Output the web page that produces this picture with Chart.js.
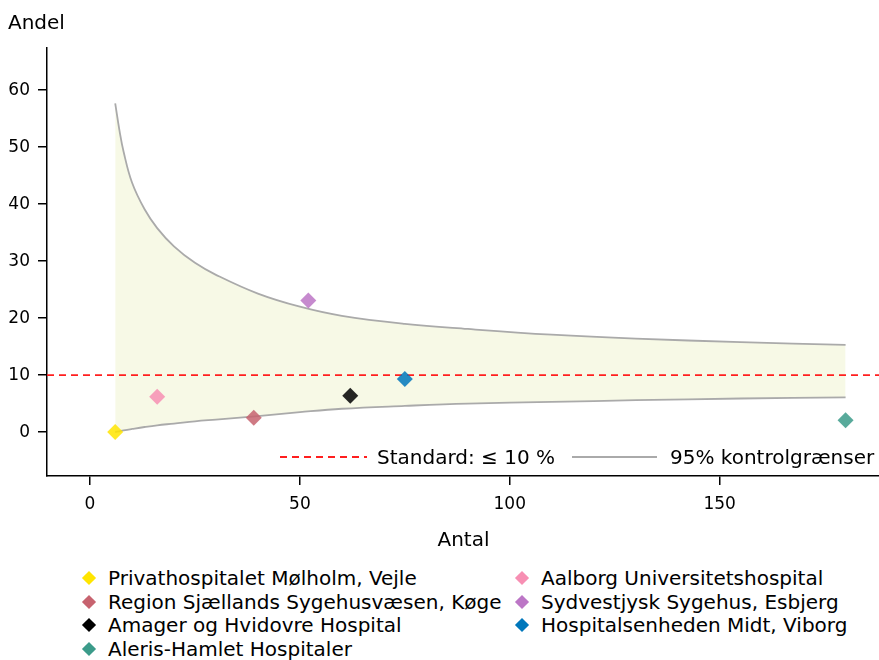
<!DOCTYPE html>
<html>
<head>
<meta charset="utf-8">
<script src="https://cdn.jsdelivr.net/npm/chart.js@4.4.0/dist/chart.umd.min.js"></script>
<style>
  body { margin: 0; background: #fff; font-family: "DejaVu Sans", sans-serif; color: #000; }
  #wrap { position: relative; width: 879px; height: 660px; overflow: hidden; }
  #chart { position: absolute; left: 0; top: 0; }
  #y-title { position: absolute; left: 8px; top: 10px; font-size: 20px; line-height: 24px; }
  #inner-legend { position: absolute; left: 280px; top: 445px; height: 24px; font-size: 20px; line-height: 24px;
                  display: flex; align-items: center; white-space: nowrap; }
  #inner-legend svg { display: block; }
  .hosp-item { position: absolute; font-size: 20px; line-height: 24px; white-space: nowrap; }
  .hosp-mark { position: absolute; width: 10px; height: 10px; transform: rotate(45deg); }
</style>
</head>
<body>
<div id="wrap">
  <canvas id="chart" width="888" height="557"></canvas>
  <div id="y-title">Andel</div>
  <div id="inner-legend">
    <svg width="87" height="4"><line x1="0" y1="2" x2="87" y2="2" stroke="#ff1f1f" stroke-width="1.8" stroke-dasharray="7 5"/></svg>
    <span style="margin-left:10px">Standard: ≤ 10 %</span>
    <svg width="85" height="4" style="margin-left:17px"><line x1="0" y1="2" x2="85" y2="2" stroke="#aaaaaa" stroke-width="1.8"/></svg>
    <span style="margin-left:13px">95% kontrolgrænser</span>
  </div>
  <div id="hosp-legend"></div>
</div>
<script>
// hospitals (legend order, row by row)
const hospitals = [
  "Privathospitalet Mølholm, Vejle",
  "Aalborg Universitetshospital",
  "Region Sjællands Sygehusvæsen, Køge",
  "Sydvestjysk Sygehus, Esbjerg",
  "Amager og Hvidovre Hospital",
  "Hospitalsenheden Midt, Viborg",
  "Aleris-Hamlet Hospitaler"
];
const antal = [6, 16, 39, 52, 62, 75, 180];
const andel = [0, 6.2, 2.5, 23.1, 6.4, 9.3, 2.1];
const hospColors = ["#ffe500", "#f78fb3", "#c7636f", "#bc76c6", "#000000", "#0077bb", "#3b9b8a"];

// 95% control limits
const bandX = [6, 7, 8, 10, 13, 16, 20, 25, 30, 40, 50, 60, 75, 90, 110, 130, 155, 180];
const bandUpper = [57.7, 53.0, 49.2, 43.8, 39.1, 35.8, 32.6, 29.7, 27.6, 24.3, 22.0, 20.4, 19.0, 18.1, 17.1, 16.4, 15.8, 15.3];
const bandLower = [0, 0.15, 0.3, 0.55, 0.9, 1.2, 1.5, 1.9, 2.2, 2.8, 3.5, 4.1, 4.6, 5.0, 5.3, 5.6, 5.9, 6.1];

const standard = 10;
const xTicks = [0, 50, 100, 150];
const yTicks = [0, 10, 20, 30, 40, 50, 60];
const xMin = -10.25, xMax = 188.2;
const yMin = -7.7, yMax = 67.4;

function withAlpha(hex, a) {
    const n = parseInt(hex.slice(1), 16);
    return `rgba(${n >> 16}, ${(n >> 8) & 255}, ${n & 255}, ${a})`;
}

// html legend under the chart, two columns
const legendBox = document.getElementById("hosp-legend");
hospitals.forEach((name, i) => {
    const col = i % 2, row = Math.floor(i / 2);
    const left = col === 0 ? 108 : 541;
    const cy = 578 + row * 23.7;
    const item = document.createElement("div");
    item.className = "hosp-item";
    item.style.left = left + "px";
    item.style.top = (cy - 12) + "px";
    item.textContent = name;
    const mark = document.createElement("div");
    mark.className = "hosp-mark";
    mark.style.left = (left - 19 - 5) + "px";
    mark.style.top = (cy - 5) + "px";
    mark.style.background = hospColors[i];
    legendBox.appendChild(mark);
    legendBox.appendChild(item);
});

const tickFont = { family: "DejaVu Sans", size: 17 };
const titleFont = { family: "DejaVu Sans", size: 20 };

new Chart(document.getElementById("chart"), {
    type: "scatter",
    data: {
        datasets: [
            {
                label: "upper",
                data: bandX.map((x, i) => ({ x: x, y: bandUpper[i] })),
                showLine: true,
                borderColor: "#aaaaaa",
                borderWidth: 1.8,
                pointRadius: 0,
                tension: 0.4,
                fill: "+1",
                backgroundColor: "#f7f9e6",
                order: 3
            },
            {
                label: "lower",
                data: bandX.map((x, i) => ({ x: x, y: bandLower[i] })),
                showLine: true,
                borderColor: "#aaaaaa",
                borderWidth: 1.8,
                pointRadius: 0,
                tension: 0.4,
                fill: false,
                order: 2
            },
            {
                label: "standard",
                data: [{ x: xMin, y: standard }, { x: xMax, y: standard }],
                showLine: true,
                borderColor: "#ff1f1f",
                borderWidth: 1.8,
                borderDash: [7, 5],
                pointRadius: 0,
                fill: false,
                order: 1
            },
            {
                label: "hospitals",
                data: antal.map((x, i) => ({ x: x, y: andel[i] })),
                pointStyle: "rectRot",
                pointRadius: 8,
                pointBorderWidth: 0,
                backgroundColor: hospColors.map(c => withAlpha(c, 0.85)),
                order: 0
            }
        ]
    },
    options: {
        responsive: false,
        animation: false,
        devicePixelRatio: 1,
        layout: { padding: { top: 48, left: 0, right: 0, bottom: 0 } },
        plugins: { legend: { display: false }, tooltip: { enabled: false } },
        scales: {
            x: {
                type: "linear",
                min: xMin,
                max: xMax,
                afterBuildTicks: s => { s.ticks = xTicks.map(v => ({ value: v })); },
                afterFit: s => { s.height = 81; },
                ticks: { font: tickFont, color: "#000", padding: 9, maxRotation: 0, autoSkip: false },
                grid: { drawOnChartArea: false, drawTicks: true, tickLength: 9, color: "#000", lineWidth: 1.5 },
                border: { display: true, color: "#000", width: 1.5 },
                title: { display: true, text: "Antal", font: titleFont, color: "#000", padding: { top: 4, bottom: 4 } }
            },
            y: {
                type: "linear",
                min: yMin,
                max: yMax,
                afterBuildTicks: s => { s.ticks = yTicks.map(v => ({ value: v })); },
                afterFit: s => { s.width = 47; },
                ticks: { font: tickFont, color: "#000", padding: 8, autoSkip: false },
                grid: { drawOnChartArea: false, drawTicks: true, tickLength: 9, color: "#000", lineWidth: 1.5 },
                border: { display: true, color: "#000", width: 1.5 }
            }
        }
    }
});
</script>
</body>
</html>
